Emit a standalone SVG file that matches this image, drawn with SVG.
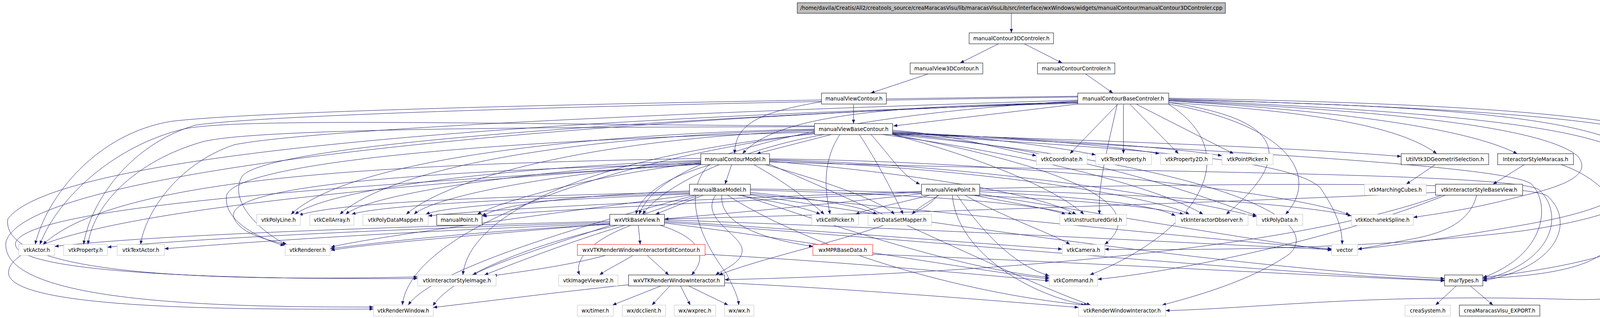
<svg xmlns="http://www.w3.org/2000/svg" width="4397" height="813" viewBox="0 0 4397 813">
<style>
rect{fill:#fff;stroke-width:1}
.doc rect{stroke:#000}
.ext rect{stroke:#bfbfbf}
.und rect{stroke:#f00}
.root rect{fill:#bfbfbf;stroke:#000}
text{font-family:"DejaVu Sans","Liberation Sans",sans-serif;font-size:13.33px;text-anchor:middle;fill:#000}
#edges path{fill:none;stroke:#191970;stroke-width:1;marker-end:url(#a)}
</style>
<defs>
<marker id="a" markerWidth="10" markerHeight="8" refX="10" refY="4" orient="auto" markerUnits="userSpaceOnUse"><path d="M0,0 L10,4 L0,8 z" fill="#191970"/></marker>
</defs>
<rect x="0" y="0" width="4397" height="813" style="fill:#fff;stroke:none"/>
<g id="edges">
<path d="M2589,34 L2589,84"/>
<path d="M2556,112 L2458,161"/>
<path d="M2622,112 L2719,161"/>
<path d="M2376,189 L2229,238"/>
<path d="M2779,189 L2849,238"/>
<path d="M2185,267 L2185,316"/>
<path d="M2103,260 C1960,285 1880,310 1881,393"/>
<path d="M2759,266 L2287,322"/>
<path d="M2759,262 C2300,270 1990,290 1901,393"/>
<path d="M2128,344 L1937,393"/>
<path d="M2861,267 L2739,393"/>
<path d="M2876,267 L2876,393"/>
<path d="M2893,267 L3017,393"/>
<path d="M2910,267 L3158,393"/>
<path d="M2992,262 C3350,285 3580,320 3678,393"/>
<path d="M2992,258 C3450,285 3760,330 3884,393"/>
<path d="M2285,333 C2450,345 2560,382 2653,398"/>
<path d="M2285,336 C2520,350 2720,378 2805,396"/>
<path d="M2285,338 C2620,352 2860,374 2968,393"/>
<path d="M2285,340 C2720,356 3010,378 3128,398"/>
<path d="M2285,342 C2900,362 3320,378 3587,400"/>
<path d="M1873,421 L1856,471"/>
<path d="M2230,344 C2280,400 2310,450 2355,471"/>
<path d="M3902,421 L3822,471"/>
<path d="M3997,421 C4095,455 4148,520 4143,575 C4136,650 4070,700 3796,712"/>
<path d="M3674,421 L3600,471"/>
<path d="M3780,499 C3765,565 3700,595 3620,610 C3540,625 3500,633 3476,637"/>
<path d="M3675,492 C3200,515 2300,545 1701,560"/>
<path d="M3700,499 C3450,600 3050,690 2810,714"/>
<path d="M3690,499 C3300,640 2500,700 1855,715"/>
<path d="M1765,488 C1480,500 1290,520 1234,552"/>
<path d="M1800,499 L1678,548"/>
<path d="M1765,491 C1300,502 880,515 765,550"/>
<path d="M1765,494 C1320,508 980,524 900,548"/>
<path d="M1765,496 C1420,510 1140,526 1090,548"/>
<path d="M1890,499 C1980,515 2060,530 2100,548"/>
<path d="M1921,492 C2060,505 2200,525 2245,548"/>
<path d="M1921,486 C2300,495 2620,515 2745,548"/>
<path d="M1921,483 C2420,490 2910,515 3030,548"/>
<path d="M1848,499 C1840,575 1960,612 2081,630"/>
<path d="M1832,499 C1790,560 1900,600 1900,640 C1900,672 1850,690 1832,703"/>
<path d="M1765,499 C1300,560 920,612 847,632"/>
<path d="M1921,496 C2600,560 3200,622 3409,636"/>
<path d="M1921,498 C2600,605 3300,695 3698,712"/>
<path d="M1900,499 C2200,600 2480,690 2686,709"/>
<path d="M1790,499 C1500,600 1290,660 1210,703"/>
<path d="M1780,499 C1400,600 1100,700 1045,780"/>
<path d="M1862,499 C2100,650 2500,755 2778,780"/>
<path d="M1794,416 C1500,450 1270,520 1222,548"/>
<path d="M1820,421 C1700,455 1640,500 1628,548"/>
<path d="M1794,410 C1300,428 850,480 755,548"/>
<path d="M1794,412 C1300,440 940,500 885,548"/>
<path d="M1794,414 C1350,450 1100,510 1060,548"/>
<path d="M1930,421 C2000,460 2070,510 2110,548"/>
<path d="M1960,421 C2100,460 2250,510 2290,548"/>
<path d="M1970,412 C2300,440 2650,490 2755,548"/>
<path d="M1970,410 C2500,430 2950,500 3045,548"/>
<path d="M1970,408 C2600,425 3080,520 3217,554"/>
<path d="M1970,406 C2700,415 3350,500 3455,550"/>
<path d="M1794,405 C1000,420 300,450 110,625"/>
<path d="M1794,418 C1000,440 560,480 600,560 C620,600 690,615 735,625"/>
<path d="M1970,414 C2800,440 3870,440 3940,485 C4000,540 3990,665 3796,716"/>
<path d="M1794,420 C1000,470 80,520 40,620 C20,700 600,715 1069,712"/>
<path d="M1794,419 C900,480 10,560 22,700 C35,790 600,792 956,790"/>
<path d="M1970,420 C2300,560 2620,720 2792,780"/>
<path d="M1815,421 C1740,500 1800,620 1860,700 C1880,740 1890,760 1891,780"/>
<path d="M2110,344 C1900,380 1700,470 1645,548"/>
<path d="M2085,330 C1400,345 880,420 745,548"/>
<path d="M2085,332 C1400,350 990,440 870,548"/>
<path d="M2085,334 C1500,355 1140,460 1040,548"/>
<path d="M2150,344 C2100,420 2115,500 2125,548"/>
<path d="M2200,344 C2250,420 2290,500 2312,548"/>
<path d="M2285,344 C2500,400 2700,480 2775,548"/>
<path d="M2260,344 C2600,390 2950,470 3080,548"/>
<path d="M2285,341 C2800,385 3120,520 3217,551"/>
<path d="M2085,322 C1300,318 600,300 470,330 C300,370 150,500 102,625"/>
<path d="M2085,324 C1300,325 650,330 520,362 C350,410 240,520 225,625"/>
<path d="M2085,338 C1200,360 600,420 580,500 C570,570 680,615 728,628"/>
<path d="M2285,344 C2700,420 2960,520 2828,625"/>
<path d="M2285,343 C2900,380 3300,405 3380,480 C3420,540 3436,580 3436,625"/>
<path d="M2085,342 C1500,400 1200,550 1185,703"/>
<path d="M2285,340 C3000,380 3850,420 3920,470 C3970,520 3960,650 3796,710"/>
<path d="M2085,340 C1500,420 1050,600 1030,780"/>
<path d="M2285,344 C3100,420 3400,560 3300,650 C3200,720 3050,760 2975,780"/>
<path d="M2759,258 C2200,290 1700,380 1636,548"/>
<path d="M2860,267 C2830,400 2810,480 2815,548"/>
<path d="M2992,262 C3250,300 3340,380 3139,548"/>
<path d="M2992,266 C3300,320 3380,450 3291,548"/>
<path d="M2992,258 C3500,280 3950,320 4040,400 C4070,440 4030,470 3900,500 C3750,540 3650,550 3618,556"/>
<path d="M2759,246 C1800,258 700,280 440,310 C250,340 120,500 90,625"/>
<path d="M2759,248 C1800,262 700,290 500,320 C330,370 230,520 214,625"/>
<path d="M2759,256 C1800,285 800,330 600,370 C450,420 370,550 360,625"/>
<path d="M2759,260 C1800,300 700,360 620,450 C580,520 680,600 733,625"/>
<path d="M2992,255 C3700,270 4200,300 4227,440 C4230,520 4100,560 3900,590 C3500,640 3000,640 2828,637"/>
<path d="M2992,256 C3600,280 4150,320 4189,420 C4195,500 4100,540 3900,575 C3700,610 3550,630 3476,637"/>
<path d="M2992,267 C3200,400 3050,600 2790,703"/>
<path d="M2992,253 C3700,275 4300,300 4341,400 C4380,500 4340,650 3796,709"/>
<path d="M2992,251 C3800,265 4385,300 4391,420 C4397,700 4300,775 4000,765 C3500,750 3200,790 2984,794"/>
<path d="M2759,264 C1500,300 150,380 20,560 C0,700 500,720 1069,708"/>
<path d="M2759,262 C1600,300 60,420 15,620 C0,780 600,785 956,785"/>
<path d="M2380,499 C2300,520 2220,535 2190,548"/>
<path d="M2404,499 C2380,515 2350,530 2335,548"/>
<path d="M2491,499 C2600,520 2690,535 2728,548"/>
<path d="M2508,490 C2800,505 2960,525 3009,552"/>
<path d="M2508,486 C3000,498 3350,525 3460,552"/>
<path d="M2359,495 C1800,560 1000,612 847,640"/>
<path d="M2470,499 C2580,560 2700,600 2739,625"/>
<path d="M2508,496 C2900,560 3250,620 3409,640"/>
<path d="M2450,499 C2520,600 2600,680 2686,705"/>
<path d="M2508,482 C3100,470 3880,460 3960,500 C4030,560 4000,680 3796,718"/>
<path d="M2438,499 C2450,650 2650,760 2785,780"/>
<path d="M2400,499 C2350,580 2000,640 1840,703"/>
<path d="M2359,489 C1900,505 1300,530 1096,552"/>
<path d="M2359,491 C2000,510 1400,535 1236,553"/>
<path d="M1561,566 C1000,580 400,600 140,630"/>
<path d="M1561,569 C1000,585 500,610 275,632"/>
<path d="M1561,572 C1000,592 600,622 421,636"/>
<path d="M1561,574 C1200,592 950,622 845,636"/>
<path d="M1634,576 L1639,625"/>
<path d="M1600,576 C1450,620 1300,680 1240,703"/>
<path d="M1615,576 C1500,620 1470,670 1484,703"/>
<path d="M1690,576 C1800,610 1810,660 1770,703"/>
<path d="M1580,576 C1300,640 1150,720 1108,782"/>
<path d="M1701,565 C2100,590 2500,622 2719,637"/>
<path d="M1701,570 C2100,620 2500,692 2686,713"/>
<path d="M1701,568 C2500,625 3300,702 3698,716"/>
<path d="M1701,562 C2500,590 3100,625 3409,638"/>
<path d="M1657,653 L1712,703"/>
<path d="M1550,653 C1450,680 1330,695 1262,705"/>
<path d="M1620,653 C1590,672 1555,688 1535,703"/>
<path d="M1805,650 C2200,672 2500,702 2686,718"/>
<path d="M2234,650 C2800,672 3300,702 3698,718"/>
<path d="M1692,731 L1568,780"/>
<path d="M1715,731 L1669,780"/>
<path d="M1742,731 L1767,780"/>
<path d="M1763,731 L1864,780"/>
<path d="M1609,728 C1400,750 1250,770 1109,786"/>
<path d="M1855,723 C2200,740 2500,765 2761,786"/>
<path d="M3728,731 L3675,780"/>
<path d="M3764,731 L3822,780"/>
</g>
<g id="n0" class="root"><rect x="2041" y="7" width="1096" height="27"/><text x="2589" y="25">/home/davila/Creatis/All2/creatools_source/creaMaracasVisu/lib/maracasVisuLib/src/interface/wxWindows/widgets/manualContour/manualContour3DControler.cpp</text></g>
<g id="n1" class="doc"><rect x="2481" y="84" width="216" height="28"/><text x="2589" y="103">manualContour3DControler.h</text></g>
<g id="n2" class="doc"><rect x="2330" y="161" width="186" height="28"/><text x="2423" y="180">manualView3DContour.h</text></g>
<g id="n3" class="doc"><rect x="2656" y="161" width="198" height="28"/><text x="2755" y="180">manualContourControler.h</text></g>
<g id="n4" class="doc"><rect x="2103" y="238" width="166" height="28"/><text x="2186" y="257">manualViewContour.h</text></g>
<g id="n5" class="doc"><rect x="2759" y="238" width="233" height="28"/><text x="2875.5" y="257">manualContourBaseControler.h</text></g>
<g id="n6" class="doc"><rect x="2085" y="316" width="200" height="28"/><text x="2185" y="335">manualViewBaseContour.h</text></g>
<g id="n7" class="doc"><rect x="1794" y="393" width="176" height="28"/><text x="1882" y="412">manualContourModel.h</text></g>
<g id="n8" class="ext"><rect x="2653" y="393" width="130" height="28"/><text x="2718" y="412">vtkCoordinate.h</text></g>
<g id="n9" class="ext"><rect x="2805" y="393" width="143" height="28"/><text x="2876.5" y="412">vtkTextProperty.h</text></g>
<g id="n10" class="ext"><rect x="2971" y="393" width="133" height="28"/><text x="3037.5" y="412">vtkProperty2D.h</text></g>
<g id="n11" class="ext"><rect x="3128" y="393" width="131" height="28"/><text x="3193.5" y="412">vtkPointPicker.h</text></g>
<g id="n12" class="doc"><rect x="3587" y="393" width="224" height="28"/><text x="3699" y="412">UtilVtk3DGeometriSelection.h</text></g>
<g id="n13" class="doc"><rect x="3834" y="393" width="194" height="28"/><text x="3931" y="412">InteractorStyleMaracas.h</text></g>
<g id="n14" class="doc"><rect x="1765" y="471" width="156" height="28"/><text x="1843" y="490">manualBaseModel.h</text></g>
<g id="n15" class="doc"><rect x="2359" y="471" width="149" height="28"/><text x="2433.5" y="490">manualViewPoint.h</text></g>
<g id="n16" class="ext"><rect x="3493" y="471" width="158" height="28"/><text x="3572" y="490">vtkMarchingCubes.h</text></g>
<g id="n17" class="doc"><rect x="3675" y="471" width="223" height="28"/><text x="3786.5" y="490">vtkInteractorStyleBaseView.h</text></g>
<g id="n18" class="ext"><rect x="657" y="548" width="112" height="28"/><text x="713" y="567">vtkPolyLine.h</text></g>
<g id="n19" class="ext"><rect x="793" y="548" width="113" height="28"/><text x="849.5" y="567">vtkCellArray.h</text></g>
<g id="n20" class="ext"><rect x="929" y="548" width="167" height="28"/><text x="1012.5" y="567">vtkPolyDataMapper.h</text></g>
<g id="n21" class="doc"><rect x="1118" y="548" width="116" height="28"/><text x="1176" y="567">manualPoint.h</text></g>
<g id="n22" class="doc"><rect x="1561" y="548" width="140" height="28"/><text x="1631" y="567">wxVtkBaseView.h</text></g>
<g id="n23" class="ext"><rect x="2078" y="548" width="120" height="28"/><text x="2138" y="567">vtkCellPicker.h</text></g>
<g id="n24" class="ext"><rect x="2222" y="548" width="163" height="28"/><text x="2303.5" y="567">vtkDataSetMapper.h</text></g>
<g id="n25" class="ext"><rect x="2713" y="548" width="171" height="28"/><text x="2798.5" y="567">vtkUnstructuredGrid.h</text></g>
<g id="n26" class="ext"><rect x="3009" y="548" width="186" height="28"/><text x="3102" y="567">vtkInteractorObserver.h</text></g>
<g id="n27" class="ext"><rect x="3217" y="548" width="118" height="28"/><text x="3276" y="567">vtkPolyData.h</text></g>
<g id="n28" class="ext"><rect x="3460" y="548" width="158" height="28"/><text x="3539" y="567">vtkKochanekSpline.h</text></g>
<g id="n29" class="ext"><rect x="48" y="625" width="92" height="28"/><text x="94" y="644">vtkActor.h</text></g>
<g id="n30" class="ext"><rect x="163" y="625" width="112" height="28"/><text x="219" y="644">vtkProperty.h</text></g>
<g id="n31" class="ext"><rect x="300" y="625" width="121" height="28"/><text x="360.5" y="644">vtkTextActor.h</text></g>
<g id="n32" class="ext"><rect x="730" y="625" width="115" height="28"/><text x="787.5" y="644">vtkRenderer.h</text></g>
<g id="n33" class="und"><rect x="1478" y="625" width="327" height="28"/><text x="1641.5" y="644">wxVTKRenderWindowInteractorEditContour.h</text></g>
<g id="n34" class="und"><rect x="2081" y="625" width="153" height="28"/><text x="2157.5" y="644">wxMPRBaseData.h</text></g>
<g id="n35" class="ext"><rect x="2719" y="625" width="109" height="28"/><text x="2773.5" y="644">vtkCamera.h</text></g>
<g id="n36" class="ext"><rect x="3409" y="625" width="67" height="28"/><text x="3442.5" y="644">vector</text></g>
<g id="n37" class="ext"><rect x="1069" y="703" width="201" height="28"/><text x="1169.5" y="722">vtkInteractorStyleImage.h</text></g>
<g id="n38" class="ext"><rect x="1430" y="703" width="152" height="28"/><text x="1506" y="722">vtkImageViewer2.h</text></g>
<g id="n39" class="doc"><rect x="1609" y="703" width="246" height="28"/><text x="1732" y="722">wxVTKRenderWindowInteractor.h</text></g>
<g id="n40" class="ext"><rect x="2686" y="703" width="124" height="28"/><text x="2748" y="722">vtkCommand.h</text></g>
<g id="n41" class="doc"><rect x="3698" y="703" width="98" height="28"/><text x="3747" y="722">marTypes.h</text></g>
<g id="n42" class="ext"><rect x="956" y="780" width="153" height="28"/><text x="1032.5" y="799">vtkRenderWindow.h</text></g>
<g id="n43" class="ext"><rect x="1478" y="780" width="92" height="28"/><text x="1524" y="799">wx/timer.h</text></g>
<g id="n44" class="ext"><rect x="1593" y="780" width="111" height="28"/><text x="1648.5" y="799">wx/dcclient.h</text></g>
<g id="n45" class="ext"><rect x="1726" y="780" width="106" height="28"/><text x="1779" y="799">wx/wxprec.h</text></g>
<g id="n46" class="ext"><rect x="1855" y="780" width="75" height="28"/><text x="1892.5" y="799">wx/wx.h</text></g>
<g id="n47" class="ext"><rect x="2761" y="780" width="223" height="28"/><text x="2872.5" y="799">vtkRenderWindowInteractor.h</text></g>
<g id="n48" class="ext"><rect x="3597" y="780" width="116" height="28"/><text x="3655" y="799">creaSystem.h</text></g>
<g id="n49" class="doc"><rect x="3736" y="780" width="206" height="28"/><text x="3839" y="799">creaMaracasVisu_EXPORT.h</text></g>
</svg>
